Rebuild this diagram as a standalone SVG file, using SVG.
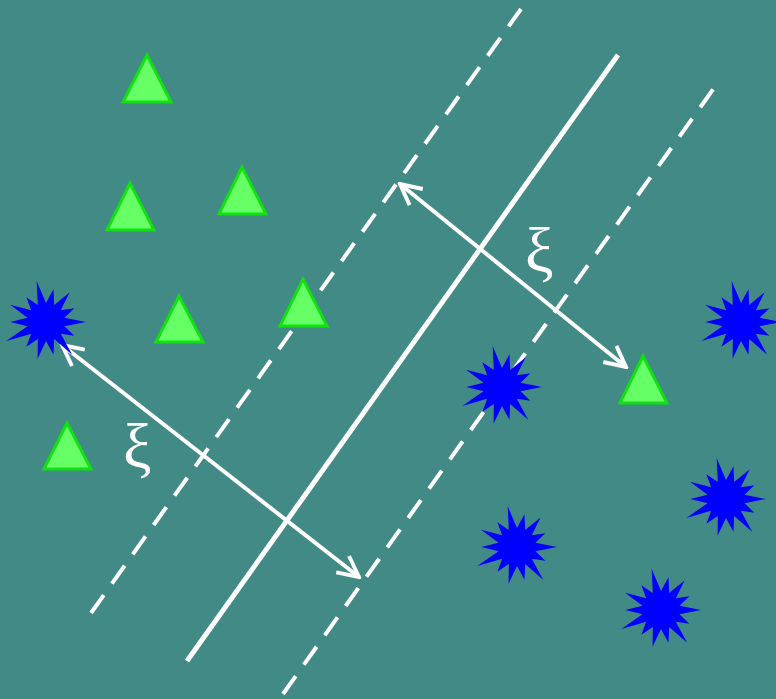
<svg xmlns="http://www.w3.org/2000/svg" xmlns:xlink="http://www.w3.org/1999/xlink" width="776" height="699" viewBox="0 0 776 699">
<defs>
<style>
.tri{fill:#66ff66;stroke:#11e011;stroke-width:3;stroke-linejoin:miter}
.star{fill:#0000ff}
.solid{stroke:#fff;stroke-width:5;fill:none}
.dash{stroke:#fff;stroke-width:4;fill:none;stroke-dasharray:22 14}
.arr{stroke:#fff;stroke-width:4;fill:none}
.xi{font-family:"Liberation Serif","DejaVu Serif",serif;font-size:64px;fill:#fff}
</style>
<marker id="ah" viewBox="0 0 20 20" refX="18" refY="10" markerWidth="6.5" markerHeight="6.5" orient="auto-start-reverse" markerUnits="strokeWidth">
<path d="M2,2 L18,10 L2,18" fill="none" stroke="#fff" stroke-width="3"/>
</marker>
<polygon id="st" class="star" points="38,0 17.6,4 27,13 14.1,11.2 24.9,31.3 7.8,16.2 7.1,31.2 0,18 -8,35.1 -7.8,16.2 -18.7,23.5 -14.1,11.2 -37.8,18.2 -17.6,4 -34,0 -17.6,-4 -34.2,-16.5 -14.1,-11.2 -18.7,-23.5 -7.8,-16.2 -8.9,-39 0,-18 7.1,-31.2 7.8,-16.2 22.4,-28.2 14.1,-11.2 27,-13 17.6,-4"/>
</defs>
<rect width="776" height="699" fill="#418a86"/>
<g id="connectors">
<line class="dash" x1="91" y1="613" x2="521" y2="9"/>
<line class="solid" x1="187" y1="661" x2="618" y2="55"/>
<line class="dash" x1="283" y1="694" x2="714" y2="88"/>
<line class="arr" x1="400" y1="184" x2="626" y2="367" marker-start="url(#ah)" marker-end="url(#ah)"/>
<line class="arr" x1="62" y1="345" x2="359" y2="577" marker-start="url(#ah)" marker-end="url(#ah)"/>
</g>
<g id="tri1"><polygon class="tri" points="147,55 123,102 171,102"/></g>
<g id="tri2"><polygon class="tri" points="130,183 107,230 154,230"/></g>
<g id="tri3"><polygon class="tri" points="242,167 219,214 266,214"/></g>
<g id="tri4"><polygon class="tri" points="179,296 156,342 203,342"/></g>
<g id="tri5"><polygon class="tri" points="303,279 280,326 327,326"/></g>
<g id="tri6"><polygon class="tri" points="67,423 44,469 91,469"/></g>
<g id="tri7"><polygon class="tri" points="643,356 620,403 667,403"/></g>
<g id="star1"><use xlink:href="#st" transform="translate(46,322) scale(1.05)"/></g>
<g id="star2"><use xlink:href="#st" transform="translate(502,387) scale(1.05)"/></g>
<g id="star3"><use xlink:href="#st" transform="translate(741,322) scale(1.05)"/></g>
<g id="star4"><use xlink:href="#st" transform="translate(517,547) scale(1.05)"/></g>
<g id="star5"><use xlink:href="#st" transform="translate(726,499) scale(1.05)"/></g>
<g id="star6"><use xlink:href="#st" transform="translate(661,610) scale(1.05)"/></g>
<g id="label1"><text class="xi" x="123" y="468">ξ</text></g>
<g id="label2"><text class="xi" x="525" y="272">ξ</text></g>
</svg>
